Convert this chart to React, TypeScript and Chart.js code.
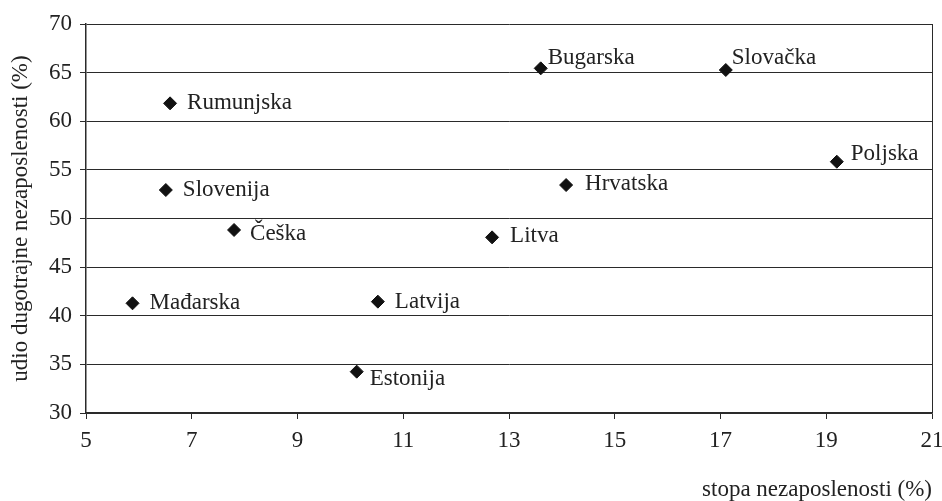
import React, { useEffect, useRef } from "react";
import { Chart, registerables } from "chart.js";

Chart.register(...registerables);

const countries = ["Rumunjska", "Slovenija", "Češka", "Mađarska", "Bugarska", "Hrvatska", "Litva", "Slovačka", "Poljska", "Latvija", "Estonija"];
const unemploymentRate = [6.59, 6.51, 7.8, 5.88, 13.6, 14.08, 12.68, 17.1, 19.2, 10.52, 10.12];
const longTermShare = [61.84, 52.93, 48.82, 41.28, 65.44, 53.44, 48.06, 65.27, 55.84, 41.45, 34.25];
const xTicks = [5, 7, 9, 11, 13, 15, 17, 19, 21];
const yTicks = [30, 35, 40, 45, 50, 55, 60, 65, 70];

const FONT = "'Liberation Serif', 'Times New Roman', serif";
const INK = "#222";
const LINE = "#2a2a2a";

// label placement relative to the marker (dx to text start, dy to baseline)
const labelPlacement: Record<string, [number, number]> = {
  "Češka": [16, 10],
  "Bugarska": [7, -4],
  "Slovačka": [6, -6],
  "Poljska": [14, -2],
  "Hrvatska": [19, 5],
  "Litva": [18, 5],
  "Estonija": [13, 13],
};
const defaultPlacement: [number, number] = [17, 6];

const pointLabels = {
  id: "pointLabels",
  afterDatasetsDraw(chart: any) {
    const { ctx } = chart;
    const meta = chart.getDatasetMeta(0);
    ctx.save();
    ctx.font = `23px ${FONT}`;
    ctx.fillStyle = INK;
    ctx.textAlign = "left";
    ctx.textBaseline = "alphabetic";
    meta.data.forEach((el: any, i: number) => {
      const name = countries[i];
      const [dx, dy] = labelPlacement[name] || defaultPlacement;
      ctx.fillText(name, el.x + dx, el.y + dy);
    });
    ctx.restore();
  },
};

export default function App() {
  const ref = useRef<HTMLCanvasElement | null>(null);
  useEffect(() => {
    if (!ref.current) return;
    const chart = new Chart(ref.current, {
      type: "scatter",
      data: {
        datasets: [
          {
            data: countries.map((_, i) => ({ x: unemploymentRate[i], y: longTermShare[i] })),
            pointStyle: "rectRot",
            pointRadius: 6.5,
            pointHoverRadius: 6.5,
            backgroundColor: "#111",
            borderColor: "#111",
            borderWidth: 1,
          },
        ],
      },
      options: {
        animation: false,
        responsive: false,
        layout: { padding: { left: 0, top: 24, right: 10, bottom: 0 } },
        plugins: { legend: { display: false }, tooltip: { enabled: false } },
        scales: {
          x: {
            type: "linear",
            min: 5,
            max: 21,
            afterBuildTicks: (s: any) => { s.ticks = xTicks.map((v) => ({ value: v })); },
            afterFit: (s: any) => { s.height = 88; s.paddingLeft = 0; s.paddingRight = 0; },
            ticks: { color: INK, font: { family: FONT, size: 23 }, padding: 8, maxRotation: 0 },
            grid: {
              drawOnChartArea: true,
              color: (c: any) => (c.tick && c.tick.value === 21 ? LINE : "rgba(0,0,0,0)"),
              tickColor: LINE,
              tickLength: 6,
              lineWidth: 1,
            },
            border: { display: true, color: LINE, width: 1.5 },
            title: {
              display: true,
              text: "stopa nezaposlenosti (%)",
              align: "end",
              color: INK,
              font: { family: FONT, size: 23, lineHeight: 1 },
              padding: { top: 0, bottom: 0 },
            },
          },
          y: {
            type: "linear",
            min: 30,
            max: 70,
            afterBuildTicks: (s: any) => { s.ticks = yTicks.map((v) => ({ value: v })); },
            afterFit: (s: any) => { s.width = 86; s.paddingTop = 0; s.paddingBottom = 0; },
            ticks: { color: INK, font: { family: FONT, size: 23 }, padding: 8 },
            grid: { color: LINE, tickColor: LINE, tickLength: 6, lineWidth: 1 },
            border: { display: true, color: LINE, width: 1.5 },
            title: {
              display: true,
              text: "udio dugotrajne nezaposlenosti (%)",
              color: INK,
              font: { family: FONT, size: 23, lineHeight: 1 },
              padding: { top: 9, bottom: 0 },
            },
          },
        },
      },
      plugins: [pointLabels],
    } as any);
    return () => chart.destroy();
  }, []);
  return (
    <div style={{ position: "absolute", left: 0, top: 0, width: 942, height: 501, background: "#fff" }}>
      <canvas ref={ref} width={942} height={501} />
    </div>
  );
}
